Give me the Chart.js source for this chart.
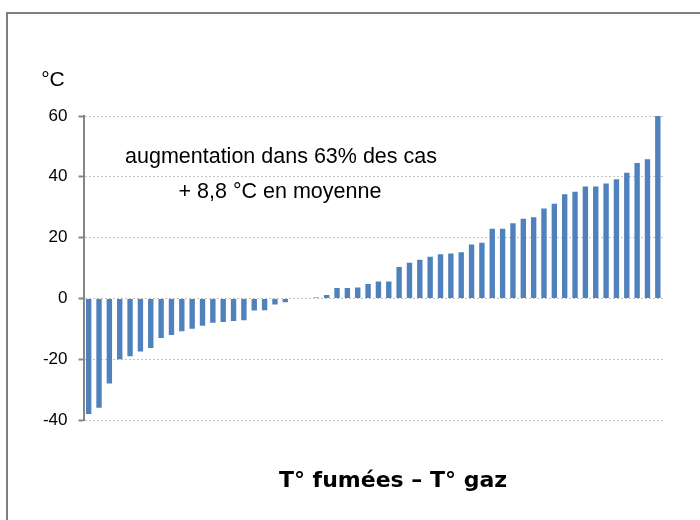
<!DOCTYPE html>
<html>
<head>
<meta charset="utf-8">
<script src="https://cdn.jsdelivr.net/npm/chart.js@4.4.1/dist/chart.umd.min.js"></script>
<style>
  body { margin: 0; background: #fff; }
  #wrap { position: relative; width: 700px; height: 520px; overflow: hidden; }
  #frame { position: absolute; left: 6px; top: 12px; width: 720px; height: 540px; border: 2px solid #7f7f7f; }
  canvas { position: absolute; left: 0; top: 0; }
</style>
</head>
<body>
<div id="wrap">
  <div id="frame"></div>
  <canvas id="myChart" width="700" height="520"></canvas>
</div>
<script>
// écart T° fumées - T° gaz, trié
const values = [-38, -36, -28, -20, -19, -17.5, -16.3, -13, -12, -10.8,
  -10, -9, -8, -7.8, -7.4, -7.2, -4, -3.9, -2, -1.3,
  0, 0, 0.3, 1.1, 3.4, 3.4, 3.6, 4.7, 5.6, 5.6,
  10.3, 11.7, 12.7, 13.7, 14.5, 14.8, 15.2, 17.7, 18.3, 22.9,
  22.9, 24.7, 26.2, 26.7, 29.6, 31.1, 34.3, 35.1, 36.8, 36.8,
  37.8, 39.2, 41.3, 44.5, 45.8, 60];
const categories = values.map((v, i) => String(i + 1));
const yTicks = [-40, -20, 0, 20, 40, 60];
const unitLabel = '°C';
const noteLines = ['augmentation dans 63% des cas', '+ 8,8 °C en moyenne'];
const xTitle = 'T° fumées – T° gaz';

const textPlugin = {
  id: 'texts',
  afterDraw (chart) {
    const ctx = chart.ctx;
    ctx.save();
    ctx.fillStyle = '#000';
    ctx.textBaseline = 'middle';
    ctx.textAlign = 'center';
    ctx.font = '21px "Liberation Sans", Arial, sans-serif';
    ctx.fillText(unitLabel, 53, 80);
    ctx.font = '21.5px "Liberation Sans", Arial, sans-serif';
    ctx.fillText(noteLines[0], 281, 157);
    ctx.fillText(noteLines[1], 280, 192);
    ctx.font = 'bold 22px "DejaVu Sans", Verdana, sans-serif';
    ctx.fillText(xTitle, 393, 481);
    ctx.restore();
  }
};

var ctx = document.getElementById('myChart').getContext('2d');
var chart = new Chart(ctx, {
  type: 'bar',
  data: {
    labels: categories,
    datasets: [{
      data: values,
      backgroundColor: '#4F81BD',
      borderWidth: 0,
      barPercentage: 0.52,
      categoryPercentage: 1
    }]
  },
  options: {
    responsive: false,
    animation: false,
    layout: { padding: { left: 33.5, right: 37, top: 116, bottom: 100 } },
    plugins: { legend: { display: false }, tooltip: { enabled: false } },
    scales: {
      x: { display: false },
      y: {
        min: yTicks[0],
        max: yTicks[yTicks.length - 1],
        afterFit: (axis) => { axis.width = 50; },
        afterBuildTicks: (axis) => { axis.ticks = yTicks.map(v => ({ value: v })); },
        ticks: {
          padding: 11,
          color: '#000',
          font: { family: '"Liberation Sans", Arial, sans-serif', size: 17 }
        },
        grid: {
          color: '#c4c4c4',
          lineWidth: 1,
          tickLength: 5,
          tickColor: '#868686',
          tickWidth: 2
        },
        border: { display: true, color: '#868686', width: 2, dash: [2, 2] }
      }
    }
  },
  plugins: [textPlugin]
});
</script>
</body>
</html>
